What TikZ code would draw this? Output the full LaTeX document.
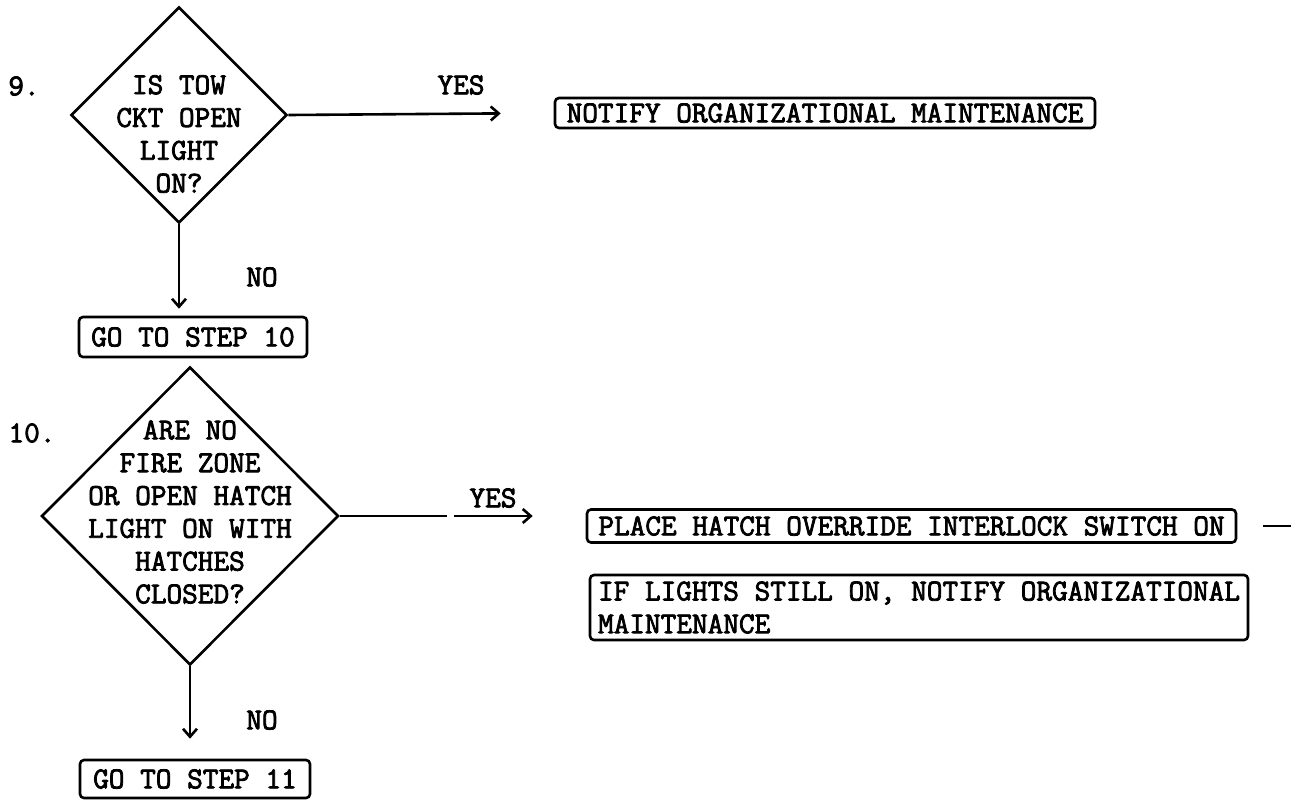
\documentclass[tikz,border=0pt]{standalone}
\usepackage{fontspec}
\setmonofont{Latin Modern Mono}[FakeBold=2.6]
\usepackage{tikz}
\usetikzlibrary{arrows.meta,shapes.geometric,positioning}

\begin{document}
\begin{tikzpicture}[
    x=0.5pt, y=-0.5pt,
    txt/.style={font=\ttfamily\fontsize{15.2}{16.4}\selectfont, inner sep=0pt},
    query/.style={draw, diamond, line width=1.3pt, inner sep=0pt},
    qtext/.style={txt, align=center},
    stepbox/.style={txt, draw, rectangle, line width=1.3pt, align=center,
                    rounded corners=2pt},
    ln/.style={line width=1.3pt},
    arr/.style={ln, -{Straight Barb[length=4pt,width=7pt]}},
  ]
  \useasboundingbox (0,0) rectangle (1295,800);

  % ---- Step 9 ----
  \node[txt] (n9) at (24,86) {9.};
  \node[query, minimum width=108pt, minimum height=108pt] (q9) at (179,115) {};
  \node[qtext] (t9) at (179,134) {IS TOW\\CKT OPEN\\LIGHT\\ON?};
  \node[stepbox, minimum width=270pt, minimum height=15pt] (notify) at (825,113)
    {NOTIFY ORGANIZATIONAL MAINTENANCE};
  \node[stepbox, minimum width=114pt, minimum height=20pt] (go10) at (193,337)
    {GO TO STEP 10};

  % ---- Step 9 arrows ----
  \draw[arr, shorten >=26.5pt] (q9.east) -- (notify.west);
  \node[txt] (yes9) at (461,85) {YES};
  \draw[arr, shorten >=3.5pt] (q9.south) -- (q9.south |- go10.north);
  \node[txt] (no9) at (262,277) {NO};

  % ---- Step 10 ----
  \node[txt] (n10) at (32,433) {10.};
  \node[query, minimum width=148.5pt, minimum height=149pt] (q10) at (190,516) {};
  \node[qtext] (t10) at (190,512)
    {ARE NO\\FIRE ZONE\\OR OPEN HATCH\\LIGHT ON WITH\\HATCHES\\CLOSED?};
  \node[stepbox, minimum width=324.5pt, minimum height=16.5pt] (place) at (911.5,526)
    {PLACE HATCH OVERRIDE INTERLOCK SWITCH ON};
  \node[stepbox, align=left, minimum width=329pt,
        minimum height=32.5pt] (lights) at (919,607.5)
    {IF LIGHTS STILL ON, NOTIFY ORGANIZATIONAL\\MAINTENANCE};
  \node[stepbox, minimum width=115pt, minimum height=19pt] (go11) at (195,779)
    {GO TO STEP 11};

  % ---- Step 10 arrows ----
  \draw[ln] (q10.east) -- ++(107,0) coordinate (brk);
  \draw[arr, shorten >=26.5pt] ([xshift=3.5pt]brk) -- (brk -| place.west);
  \node[txt] (yes10) at (493,498) {YES};
  \draw[ln] ([xshift=13pt]place.east) -- ++(28,0);
  \draw[arr, shorten >=10pt] (q10.south) -- (q10.south |- go11.north);
  \node[txt] (no10) at (262,720) {NO};
\end{tikzpicture}
\end{document}
